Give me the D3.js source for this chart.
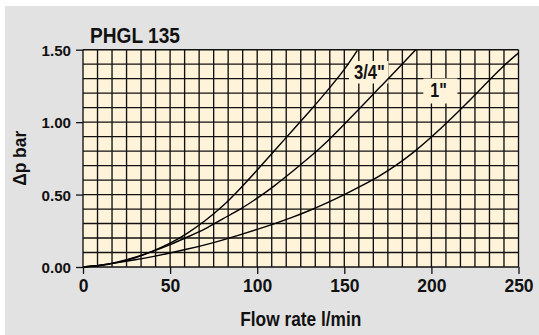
<!DOCTYPE html>
<html>
<head>
<meta charset="utf-8">
<script src="https://cdn.jsdelivr.net/npm/d3@7"></script>
<style>
  html, body { margin: 0; padding: 0; background: #ffffff; }
  svg { display: block; }
  text { font-family: "Liberation Sans", Arial, Helvetica, sans-serif; font-weight: bold; fill: #111; }
</style>
</head>
<body>
<svg id="chart" width="539" height="335"></svg>
<script>
// ---- data ----
const title = "PHGL 135";
const xTickValues = [0, 50, 100, 150, 200, 250];
const yTickValues = [0, 0.5, 1.0, 1.5];
const xLabel = "Flow rate l/min";
const yLabel = "Δp bar";

// curve A (leftmost, unlabelled)
const flowA = [0, 10, 20, 30, 40, 50, 60, 70, 80, 90, 100, 110, 120, 130, 140, 150, 157.5];
const dpA   = [0, 0.01, 0.032, 0.064, 0.109, 0.164, 0.234, 0.319, 0.419, 0.539, 0.669, 0.804, 0.939, 1.074, 1.214, 1.364, 1.495];
// curve 3/4"
const flowB = [0, 10, 20, 30, 40, 50, 60, 70, 80, 90, 100, 110, 120, 130, 140, 150, 160, 170, 180, 191];
const dpB   = [0, 0.012, 0.035, 0.068, 0.108, 0.155, 0.207, 0.263, 0.33, 0.398, 0.475, 0.562, 0.657, 0.757, 0.865, 0.985, 1.11, 1.235, 1.36, 1.5];
// curve 1"
const flowC = [0, 10, 20, 30, 40, 50, 60, 70, 80, 90, 100, 110, 120, 130, 140, 150, 160, 170, 180, 190, 200, 210, 220, 230, 240, 250];
const dpC   = [0, 0.013, 0.03, 0.05, 0.072, 0.097, 0.124, 0.153, 0.186, 0.222, 0.26, 0.3, 0.343, 0.39, 0.443, 0.5, 0.562, 0.628, 0.705, 0.795, 0.897, 1.009, 1.127, 1.25, 1.371, 1.478];

const labels = ["3/4\"", "1\""];

// ---- drawing ----
const svg = d3.select("#chart");
const W = 539, H = 335;

svg.append("rect").attr("x", 5).attr("y", 6).attr("width", W - 5).attr("height", H - 6).attr("fill", "#e2e2e2");

const x = d3.scaleLinear().domain([0, 250]).range([83, 518.5]);
const y = d3.scaleLinear().domain([0, 1.5]).range([267, 49.7]);

// plot background
svg.append("rect")
  .attr("x", x(0)).attr("y", y(1.5))
  .attr("width", x(250) - x(0)).attr("height", y(0) - y(1.5))
  .attr("fill", "#fff3da");

// grid
const gridX = d3.range(0, 31).map(i => i * 250 / 30);
const gridY = d3.range(0, 16).map(j => j * 0.1);
const grid = svg.append("g").attr("stroke", "#111").attr("stroke-width", 1.35);
grid.selectAll("line.v").data(gridX).join("line")
  .attr("x1", d => x(d)).attr("x2", d => x(d))
  .attr("y1", y(0)).attr("y2", y(1.5));
grid.selectAll("line.h").data(gridY).join("line")
  .attr("y1", d => y(d)).attr("y2", d => y(d))
  .attr("x1", x(0)).attr("x2", x(250));

// label boxes masking grid
const boxes = [
  { x0: 349, y0: 61, x1: 388.5, y1: 83.5 },
  { x0: 423.3, y0: 78.5, x1: 457.3, y1: 103.5 }
];
svg.selectAll("rect.box").data(boxes).join("rect")
  .attr("x", d => d.x0).attr("y", d => d.y0)
  .attr("width", d => d.x1 - d.x0).attr("height", d => d.y1 - d.y0)
  .attr("fill", "#fff3da");

// curves
const line = d3.line().x(d => x(d[0])).y(d => y(d[1])).curve(d3.curveNatural);
const series = [
  d3.zip(flowA, dpA),
  d3.zip(flowB, dpB),
  d3.zip(flowC, dpC)
];
svg.selectAll("path.curve").data(series).join("path")
  .attr("d", line)
  .attr("fill", "none").attr("stroke", "#000").attr("stroke-width", 1.4);

// curve labels
svg.selectAll("text.lbl").data(labels).join("text")
  .attr("x", (d, i) => [369.5, 438.5][i])
  .attr("y", (d, i) => [79.3, 96.7][i])
  .attr("text-anchor", "middle")
  .style("font-size", "19.5px")
  .attr("textLength", (d, i) => [31, 16.5][i])
  .attr("lengthAdjust", "spacingAndGlyphs")
  .text(d => d);

// axes
const yAxis = d3.axisLeft(y).tickValues(yTickValues).tickSize(7).tickPadding(5).tickFormat(d3.format(".2f"));
const gy = svg.append("g").attr("transform", `translate(${x(0)},0)`).call(yAxis);
gy.select(".domain").remove();
gy.attr("font-size", null).attr("font-family", null);
gy.selectAll(".tick line").attr("stroke", "#111").attr("stroke-width", 1.3);
gy.selectAll(".tick text").style("font-size", "15.5px").attr("fill", "#111")
  .attr("dy", "0.36em").attr("textLength", 29.5).attr("lengthAdjust", "spacingAndGlyphs");

const xAxis = d3.axisBottom(x).tickValues(xTickValues).tickSize(7).tickPadding(6).tickFormat(d3.format("d"));
const gx = svg.append("g").attr("transform", `translate(0,${y(0)})`).call(xAxis);
gx.select(".domain").remove();
gx.attr("font-size", null).attr("font-family", null);
gx.selectAll(".tick line").attr("stroke", "#111").attr("stroke-width", 1.3);
gx.selectAll(".tick text").style("font-size", "17.5px").attr("fill", "#111");

// titles
svg.append("text").attr("x", 90).attr("y", 43.3).style("font-size", "21.5px")
  .attr("textLength", 90).attr("lengthAdjust", "spacingAndGlyphs").text(title);

svg.append("text").attr("x", (x(0) + x(250)) / 2).attr("y", 326).attr("text-anchor", "middle")
  .style("font-size", "20px").attr("textLength", 121).attr("lengthAdjust", "spacingAndGlyphs").text(xLabel);

svg.append("text")
  .attr("transform", `translate(25.5,${(y(0) + y(1.5)) / 2}) rotate(-90)`)
  .attr("text-anchor", "middle").style("font-size", "18px")
  .attr("textLength", 55).attr("lengthAdjust", "spacingAndGlyphs").text(yLabel);
</script>
</body>
</html>
